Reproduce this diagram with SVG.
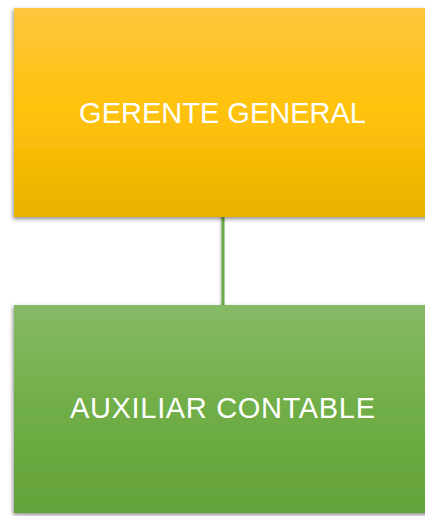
<svg xmlns="http://www.w3.org/2000/svg" width="425" height="516" viewBox="0 0 425 516">
<style>
.lbl{font-family:"Liberation Sans",Arial,sans-serif;fill:#ffffff;text-anchor:middle;font-size:29px}
.conn{stroke:#6aab44;stroke-width:3;fill:none}
</style>
<defs>
<linearGradient id="gOr" x1="0" y1="0" x2="0" y2="1">
<stop offset="0" stop-color="#ffc63e"/>
<stop offset="0.5" stop-color="#ffc20a"/>
<stop offset="1" stop-color="#e8b200"/>
</linearGradient>
<linearGradient id="gGr" x1="0" y1="0" x2="0" y2="1">
<stop offset="0" stop-color="#86ba66"/>
<stop offset="0.5" stop-color="#70ae47"/>
<stop offset="1" stop-color="#63a239"/>
</linearGradient>
<filter id="sh" x="-10%" y="-10%" width="120%" height="130%">
<feDropShadow dx="-1" dy="2" stdDeviation="2.2" flood-color="#000" flood-opacity="0.45"/>
</filter>
<filter id="shl" filterUnits="userSpaceOnUse" x="200" y="200" width="50" height="120">
<feDropShadow dx="-1" dy="1" stdDeviation="1" flood-color="#000" flood-opacity="0.25"/>
</filter>
</defs>
<g id="connectors">
<line class="conn" x1="223" y1="216" x2="223" y2="306" filter="url(#shl)"/>
</g>
<g id="node-gerente">
<rect x="14" y="8" width="420" height="209" fill="url(#gOr)" filter="url(#sh)"/>
<text class="lbl" x="222.5" y="123">GERENTE GENERAL</text>
</g>
<g id="node-auxiliar">
<rect x="14" y="305" width="420" height="208" fill="url(#gGr)" filter="url(#sh)"/>
<text class="lbl" x="222.5" y="418" textLength="305">AUXILIAR CONTABLE</text>
</g>
</svg>
